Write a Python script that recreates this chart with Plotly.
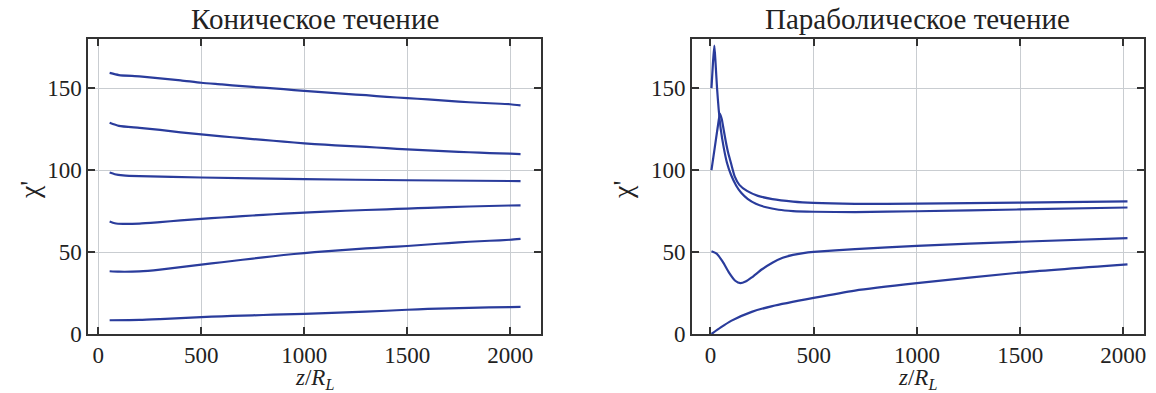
import plotly.graph_objects as go

# ---------------- data: left panel (conical flow) ----------------
con_x1 = [55, 100, 200, 300, 400, 500, 600, 700, 800, 900, 1000, 1100, 1200, 1300, 1400, 1500, 1600, 1700, 1800, 1900, 2000, 2050]
con_y1 = [159.3, 158.0, 157.2, 156.0, 154.8, 153.3, 152.3, 151.2, 150.3, 149.4, 148.3, 147.4, 146.5, 145.7, 144.7, 143.9, 143.2, 142.3, 141.4, 140.8, 140.2, 139.5]
con_x2 = [55, 100, 200, 300, 400, 500, 600, 700, 800, 900, 1000, 1100, 1200, 1300, 1400, 1500, 1600, 1700, 1800, 1900, 2000, 2050]
con_y2 = [128.9, 127.0, 125.8, 124.5, 123.0, 121.8, 120.6, 119.5, 118.4, 117.4, 116.3, 115.5, 114.8, 114.2, 113.4, 112.6, 112.0, 111.4, 110.9, 110.4, 110.0, 109.8]
con_x3 = [55, 80, 120, 200, 500, 1000, 1500, 2050]
con_y3 = [98.5, 97.5, 96.8, 96.3, 95.5, 94.5, 93.8, 93.3]
con_x4 = [55, 80, 120, 200, 300, 400, 500, 600, 700, 800, 900, 1000, 1200, 1400, 1500, 1600, 1800, 2000, 2050]
con_y4 = [68.7, 67.6, 67.2, 67.4, 68.3, 69.3, 70.3, 71.1, 71.9, 72.7, 73.4, 74.1, 75.2, 76.1, 76.5, 77.0, 77.8, 78.4, 78.5]
con_x5 = [55, 100, 200, 300, 400, 500, 600, 700, 800, 900, 1000, 1100, 1200, 1300, 1400, 1500, 1600, 1700, 1800, 1900, 2000, 2050]
con_y5 = [38.3, 38.0, 38.2, 39.3, 40.8, 42.3, 43.8, 45.3, 46.7, 48.2, 49.4, 50.4, 51.3, 52.2, 53.0, 53.7, 54.6, 55.5, 56.3, 56.9, 57.5, 58.0]
con_x6 = [55, 200, 300, 400, 500, 600, 700, 800, 900, 1000, 1200, 1400, 1500, 1600, 1800, 2000, 2050]
con_y6 = [8.4, 8.6, 9.1, 9.7, 10.3, 10.8, 11.2, 11.6, 12.0, 12.3, 13.2, 14.2, 14.8, 15.3, 16.0, 16.4, 16.5]

# ---------------- data: right panel (parabolic flow) ----------------
par_xa = [5, 12, 19, 25, 32, 40, 50, 64, 80, 100, 125, 150, 180, 220, 270, 330, 400, 500, 700, 1000, 1500, 2020]
par_ya = [150, 165, 176, 165, 150, 137, 125, 114, 104.5, 97, 90.5, 86, 82.5, 79.5, 77.3, 75.8, 75.0, 74.6, 74.4, 74.9, 76.0, 77.2]
par_xb = [5, 20, 35, 46, 55, 65, 75, 85, 100, 118, 140, 177, 230, 300, 400, 500, 700, 1000, 1500, 2020]
par_yb = [100, 113, 126, 134.5, 131, 124, 117, 111, 104, 96, 91, 87.3, 84.3, 82.3, 80.8, 80.0, 79.4, 79.5, 80.2, 80.9]
par_xc = [5, 30, 60, 90, 120, 145, 170, 200, 250, 300, 350, 400, 450, 500, 700, 1000, 1500, 2020]
par_yc = [50.5, 49, 44, 37.5, 32.5, 31, 32, 34.5, 39.5, 43.5, 46.5, 48.3, 49.4, 50.1, 51.8, 53.8, 56.3, 58.5]
par_xd = [5, 50, 100, 200, 300, 500, 700, 1000, 1500, 2020]
par_yd = [0, 4, 8, 13.5, 17, 22, 26.5, 31, 37.5, 42.5]

titles = ["Коническое течение", "Параболическое течение"]
x_ticks = [0, 500, 1000, 1500, 2000]
y_ticks = [0, 50, 100, 150]

LINE = "#2a3c9c"
FONT = "Liberation Serif, DejaVu Serif, Times New Roman, serif"

fig = go.Figure()
left = [(con_x1, con_y1), (con_x2, con_y2), (con_x3, con_y3), (con_x4, con_y4), (con_x5, con_y5), (con_x6, con_y6)]
right = [(par_xa, par_ya), (par_xb, par_yb), (par_xc, par_yc), (par_xd, par_yd)]
for xs, ys in left:
    fig.add_trace(go.Scatter(x=xs, y=ys, mode="lines", xaxis="x", yaxis="y",
                             line=dict(color=LINE, width=2.2, shape="spline", smoothing=0.6), showlegend=False))
for xs, ys in right:
    fig.add_trace(go.Scatter(x=xs, y=ys, mode="lines", xaxis="x2", yaxis="y2",
                             line=dict(color=LINE, width=2.2, shape="spline", smoothing=0.6), showlegend=False))

axis_common = dict(showline=True, linecolor="#333", linewidth=1.5, mirror="allticks",
                   ticks="inside", ticklen=7, tickwidth=1.5, tickcolor="#333",
                   showgrid=True, gridcolor="#c9cdd1", gridwidth=1, zeroline=False,
                   tickfont=dict(family=FONT, size=23, color="#222"))

ML, MR, MT, MB = 88, 10, 39, 59
W, H = 1156, 393
PW = W - ML - MR
PH = H - MT - MB
d1 = [0, (542 - ML) / PW]
d2 = [(693 - ML) / PW, 1.0]

fig.update_layout(
    width=W, height=H,
    margin=dict(l=ML, r=MR, t=MT, b=MB),
    paper_bgcolor="white", plot_bgcolor="white",
    xaxis=dict(domain=d1, range=[-50, 2150], tickvals=x_ticks, anchor="y", **axis_common),
    yaxis=dict(domain=[0, 1], range=[0, 180], tickvals=y_ticks, anchor="x", **axis_common),
    xaxis2=dict(domain=d2, range=[-90, 2100], tickvals=x_ticks, anchor="y2", **axis_common),
    yaxis2=dict(domain=[0, 1], range=[0, 180], tickvals=y_ticks, anchor="x2", **axis_common),
)

ann = []
for i, dom in enumerate([d1, d2]):
    cx = (dom[0] + dom[1]) / 2
    ann.append(dict(text=titles[i], xref="paper", yref="paper", x=cx, y=1 + 20 / PH,
                    xanchor="center", yanchor="middle", showarrow=False,
                    font=dict(family=FONT, size=29, color="#222")))
    ann.append(dict(text="<i>z</i>/<i>R<sub>L</sub></i>", xref="paper", yref="paper", x=cx,
                    y=-(379 - 334) / PH, xanchor="center", yanchor="middle", showarrow=False,
                    font=dict(family=FONT, size=23, color="#222")))
ylab_px = [30, 624]
for px in ylab_px:
    ann.append(dict(text="χ'", xref="paper", yref="paper", x=(px - ML) / PW, y=(334 - 190) / PH,
                    xanchor="center", yanchor="middle", textangle=-90, showarrow=False,
                    font=dict(family=FONT, size=28, color="#222")))
fig.update_layout(annotations=ann)

fig.write_html("out.html", config={"displayModeBar": False},
               post_script="document.body.style.margin='0';")
